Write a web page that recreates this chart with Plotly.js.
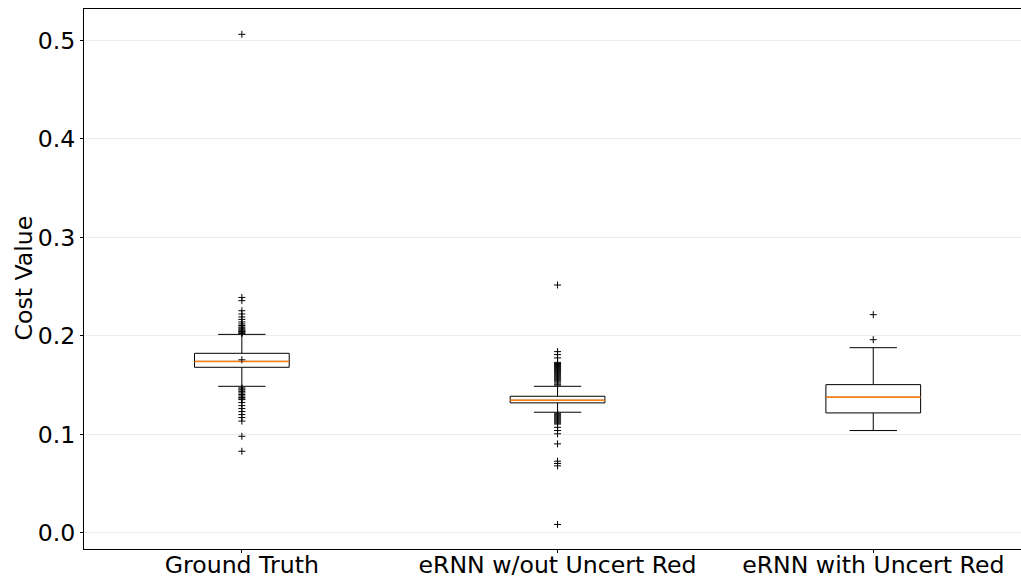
<!DOCTYPE html>
<html>
<head>
<meta charset="utf-8">
<script src="https://cdn.plot.ly/plotly-3.0.1.min.js"></script>
<style>html,body{margin:0;padding:0;background:#fff;}#chart{width:1021px;height:583px;}</style>
</head>
<body>
<div id="chart"></div>
<script>
// Categories and positions on the numeric x axis
const categories = ["Ground Truth", "eRNN w/out Uncert Red", "eRNN with Uncert Red"];
const positions = [1, 2, 3];

// Box statistics
const q1 = [0.1681, 0.1320, 0.1218];
const medians = [0.1741, 0.1346, 0.1377];
const q3 = [0.1823, 0.1387, 0.1505];
const lowerWhisker = [0.1488, 0.1225, 0.1039];
const upperWhisker = [0.2015, 0.1488, 0.1880];

// Flier points ("+")
const fliersGroundTruth = [0.506, 0.239, 0.2357, 0.2255, 0.2222, 0.2192, 0.2167, 0.2141, 0.2121, 0.2105,
  0.209, 0.208, 0.207, 0.206, 0.205, 0.2045, 0.204, 0.203, 0.2025, 0.1757,
  0.1472, 0.146, 0.145, 0.1434, 0.142, 0.1404, 0.139, 0.1374, 0.136, 0.1353,
  0.1323, 0.1292, 0.1262, 0.1232, 0.1201, 0.1171, 0.1135, 0.0981, 0.0829];
const fliersNoReduction = [0.2516, 0.184, 0.181, 0.1776, 0.1731, 0.172, 0.171, 0.170, 0.169, 0.168,
  0.167, 0.166, 0.165, 0.164, 0.163, 0.162, 0.161, 0.160, 0.159, 0.158, 0.157, 0.156, 0.155,
  0.154, 0.1523, 0.151, 0.150,
  0.1215, 0.1205, 0.1195, 0.1185, 0.1175, 0.1165, 0.1155, 0.1145, 0.1135, 0.1125, 0.1115, 0.1105,
  0.1072, 0.1039, 0.1006, 0.0904, 0.0728, 0.0705, 0.0681, 0.0086];
const fliersWithReduction = [0.2215, 0.1961];
const fliers = [fliersGroundTruth, fliersNoReduction, fliersWithReduction];

// Axis ticks and title
const yTicks = [0.0, 0.1, 0.2, 0.3, 0.4, 0.5];
const yTickText = ["0.0", "0.1", "0.2", "0.3", "0.4", "0.5"];
const yTitle = "Cost Value";

const FONT = "DejaVu Sans, sans-serif";
const FS = 23.6;
const boxWidth = 0.3;

const traces = [];
positions.forEach((p, i) => {
  traces.push({
    type: "box",
    x: [p],
    q1: [q1[i]], median: [medians[i]], q3: [q3[i]],
    lowerfence: [lowerWhisker[i]], upperfence: [upperWhisker[i]],
    width: boxWidth,
    whiskerwidth: 0.5,
    fillcolor: "rgba(0,0,0,0)",
    line: {color: "#000000", width: 1},
    boxpoints: false,
    hoverinfo: "skip",
    showlegend: false
  });
});
// Orange median lines drawn as zero-height boxes on top
positions.forEach((p, i) => {
  traces.push({
    type: "box",
    x: [p],
    q1: [medians[i]], median: [medians[i]], q3: [medians[i]],
    lowerfence: [medians[i]], upperfence: [medians[i]],
    width: boxWidth,
    whiskerwidth: 0,
    fillcolor: "rgba(0,0,0,0)",
    line: {color: "#ff7f0e", width: 1.5},
    boxpoints: false,
    hoverinfo: "skip",
    showlegend: false
  });
});
// Flier markers
positions.forEach((p, i) => {
  traces.push({
    type: "scatter",
    mode: "markers",
    x: fliers[i].map(() => p),
    y: fliers[i],
    marker: {symbol: "cross-thin", size: 5, color: "#000000", line: {color: "#000000", width: 1}},
    hoverinfo: "skip",
    showlegend: false
  });
});

const layout = {
  width: 1021,
  height: 583,
  margin: {l: 84, r: 0, t: 9, b: 34, pad: 0},
  paper_bgcolor: "#ffffff",
  plot_bgcolor: "#ffffff",
  boxmode: "overlay",
  showlegend: false,
  font: {family: FONT, size: FS, color: "#000000"},
  xaxis: {
    type: "linear",
    range: [0.5, 3.468],
    tickmode: "array",
    tickvals: positions,
    ticktext: categories,
    ticks: "outside",
    ticklen: 3,
    tickwidth: 1,
    tickcolor: "#000000",
    ticklabelstandoff: -8,
    showgrid: false,
    zeroline: false,
    showline: true,
    linecolor: "#000000",
    linewidth: 1,
    mirror: true,
    automargin: false,
    tickfont: {family: FONT, size: FS, color: "#000000"}
  },
  yaxis: {
    type: "linear",
    range: [-0.0163, 0.5317],
    tickmode: "array",
    tickvals: yTicks,
    ticktext: yTickText,
    ticks: "outside",
    ticklen: 3,
    tickwidth: 1,
    tickcolor: "#000000",
    showgrid: true,
    gridcolor: "#ebebeb",
    gridwidth: 1,
    zeroline: false,
    showline: true,
    linecolor: "#000000",
    linewidth: 1,
    mirror: false,
    automargin: false,
    tickfont: {family: FONT, size: FS, color: "#000000"}
  },
  annotations: [{
    text: yTitle,
    xref: "paper", yref: "paper",
    x: -0.064, y: 0.501,
    xanchor: "center", yanchor: "middle",
    textangle: -90,
    showarrow: false,
    font: {family: FONT, size: FS, color: "#000000"}
  }]
};

Plotly.newPlot("chart", traces, layout, {displayModeBar: false, staticPlot: true});
</script>
</body>
</html>
